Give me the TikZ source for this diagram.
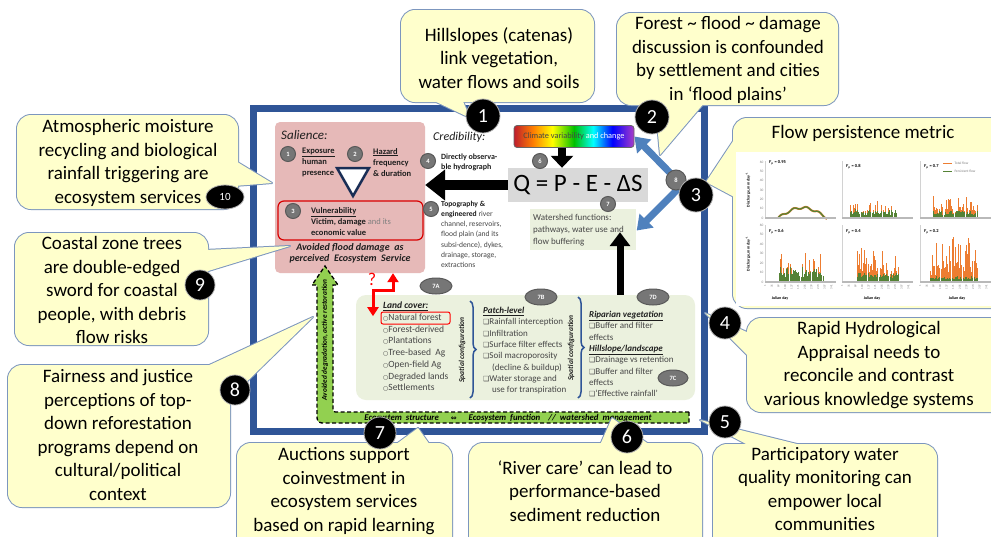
\documentclass[tikz,border=0pt]{standalone}
\usepackage{fontspec}
\setmainfont{Carlito}
\newfontfamily\djv{DejaVu Sans}
\usetikzlibrary{arrows.meta,shapes.geometric,decorations.pathreplacing,calc}
\definecolor{frameblue}{RGB}{47,85,151}
\definecolor{calfill}{RGB}{255,255,204}
\definecolor{calborder}{RGB}{124,150,190}
\definecolor{salpink}{RGB}{230,185,184}
\definecolor{lightgreen}{RGB}{235,241,222}
\definecolor{barfill}{RGB}{146,208,80}
\definecolor{arrowblue}{RGB}{79,129,189}
\definecolor{eqgrey}{RGB}{217,217,217}
\definecolor{numgrey}{RGB}{118,118,118}
\definecolor{txtgrey}{RGB}{70,70,70}
\definecolor{txtdark}{RGB}{30,30,30}
\definecolor{navy}{RGB}{25,45,85}
\definecolor{flowor}{RGB}{237,125,49}
\definecolor{flowgr}{RGB}{84,130,53}
\definecolor{rbred}{RGB}{190,30,45}
\definecolor{rbviolet}{RGB}{170,60,200}
\pgfdeclarehorizontalshading{rainbowsh}{100bp}{color(0bp)=(rbred); color(25bp)=(rbred); color(33bp)=(orange); color(41bp)=(yellow); color(50bp)=(green!75!black); color(58bp)=(cyan); color(66bp)=(blue); color(75bp)=(rbviolet); color(100bp)=(rbviolet)}
\newcommand\fsz[2]{\fontsize{#1}{#2}\selectfont}
\newcommand\lcb{{\djv\fsz{6}{6}○}}
\newcommand\chk{{\djv\fsz{7}{7}❑}}
\newcommand\calloutshape[5]{%
  \draw[calborder, line width=2pt, rounded corners=14pt] #1 rectangle #2;
  \draw[calborder, line width=2pt, line join=round] #3 -- #4 -- #5 -- cycle;
  \fill[calfill, rounded corners=14pt] #1 rectangle #2;
  \fill[calfill] #3 -- #4 -- #5 -- cycle;}
\newcommand\flowbars[5]{%
  \foreach \kk in {0,...,#2}{%
    \pgfmathsetmacro\ho{(#4)*(0.3+0.7*rnd)*(rnd>0.5 ? 1 : 0.5)}%
    \pgfmathsetmacro\hg{min(\ho,(#5)*(0.45+0.55*rnd))}%
    \draw[flowor, line width=0.9pt] ({#1+\kk*1.1},#3) -- ++(0,-\ho);
    \draw[flowgr, line width=0.9pt] ({#1+\kk*1.1},#3) -- ++(0,-\hg);
  }}
\tikzset{
  plainbox/.style={inner sep=0pt, draw=none},
  calltext/.style={align=center, font=\fsz{19}{23.5}, text=black, inner sep=0pt},
  badge/.style={circle, fill=black, draw=gray!60, line width=0.8pt, text=white, font=\fsz{20}{20}, minimum size=34pt, inner sep=0pt},
  numc/.style={circle, fill=numgrey, draw=black!65, line width=1pt, text=white, font=\bfseries\fsz{6.5}{6.5}, minimum size=15pt, inner sep=0pt},
  numel/.style={ellipse, fill=numgrey, draw=black!65, line width=1pt, text=white, font=\bfseries\fsz{6.5}{6.5}, minimum width=32pt, minimum height=16pt, inner sep=0pt},
  tinytxt/.style={font=\fsz{3.5}{3.5}, text=gray, inner sep=0.3pt},
}
\begin{document}
\begin{tikzpicture}[x=1pt,y=-1pt]
\useasboundingbox (0,0) rectangle (991,536);
\fill[white] (0,0) rectangle (991,536);

% main frame
\draw[frameblue, line width=7pt] (253,108) rectangle (704,431);

% Salience
\node[plainbox, fill=salpink, rounded corners=5pt, minimum width=150pt, minimum height=151pt] (sal) at (350,197.5) {};
\node[anchor=west, inner sep=0pt, font=\itshape\fsz{13}{13}, text=txtdark] (saltitle) at (281,135) {Salience:};
\node[numc] (g1) at (288,154) {1};
\node[numc] (g2) at (355,154) {2};
\node[anchor=north west, inner sep=0pt, align=left, font=\bfseries\fsz{8.5}{11}, text=txtdark] (expo) at (302,148) {\underline{Exposure}\\human\\presence};
\node[anchor=north west, inner sep=0pt, align=left, font=\bfseries\fsz{8.5}{11}, text=txtdark] (haz) at (373,148) {\underline{Hazard}\\frequency\\\& duration};
\draw[fill=white, draw=navy, line width=2.5pt, line join=miter] (337,168) -- (369,168) -- (353,196) -- cycle;
\node[plainbox, draw=red!85!black, line width=1.2pt, rounded corners=6pt, minimum width=145pt, minimum height=39pt] (vul) at (350.5,220.5) {};
\node[numc] (g3) at (293,211) {3};
\node[anchor=north west, inner sep=0pt, align=left, font=\bfseries\fsz{8.5}{10.8}, text=txtdark] (vultxt) at (311,207.5) {\underline{Vulnerability}\\Victim, damage {\mdseries\color{gray}and its}\\economic value};
\node[align=center, inner sep=0pt, font=\bfseries\itshape\fsz{10}{11}, text=txtdark] (avoid) at (350,253) {Avoided flood damage\ \ as\\perceived\ \ Ecosystem\ \ Service};

% Credibility
\node[anchor=west, inner sep=0pt, font=\itshape\fsz{12}{12}, text=txtdark] (cred) at (433,137) {Credibility:};
\node[numc] (g4) at (428,161) {4};
\node[anchor=north west, inner sep=0pt, align=left, font=\bfseries\fsz{8}{10.5}, text=txtdark] (obs) at (441,153.6) {Directly observa-\\ble hydrograph};
\node[numc] (g5) at (431,209) {5};
\node[anchor=north west, inner sep=0pt, align=left, font=\fsz{7.6}{10.2}, text=txtgrey] (topo) at (441,200.8) {{\bfseries\color{txtdark}Topography \&}\\{\bfseries\color{txtdark}engineered} river\\channel, reservoirs,\\flood plain (and its\\subsi-dence), dykes,\\drainage, storage,\\extractions};

\node[plainbox, draw=black!60, line width=0.8pt, rounded corners=3pt, shading=rainbowsh, minimum width=120pt, minimum height=22pt, font=\fsz{8.3}{8.3}] (clim) at (574,136.5) {{\color{txtgrey}Climate variability} {\color{white}and change}};
\node[plainbox, fill=eqgrey, minimum width=140pt, minimum height=34pt, font=\fsz{25}{25}] (eq) at (578,185) {Q = P - E - ΔS};
\node[plainbox, fill=lightgreen, minimum width=106pt, minimum height=41pt] (ws) at (582.5,229.5) {};
\node[anchor=north west, inner sep=0pt, align=left, font=\fsz{9}{12}, text=txtgrey] (wstxt) at (533,214.2) {Watershed functions:\\pathways, water use and\\flow buffering};

\draw[black, line width=8pt, -{Triangle[width=22pt,length=12pt]}] ($(clim.south)+(-12,0)$) -- ($(eq.north)+(-16,0)$);
\node[numc] (g6) at (540,161) {6};
\draw[black, line width=10pt, -{Triangle[width=30pt,length=20pt]}] (eq.west) -- (eq.west -| sal.east);
\node[numc] (g7) at (608,204) {7};

% lower box
\node[plainbox, fill=lightgreen, rounded corners=10pt, minimum width=339pt, minimum height=105pt] (low) at (525.5,347.5) {};
\draw[black, line width=7pt, -{Triangle[width=20pt,length=14pt]}] ($(low.north)+(94.5,0)$) -- ($(ws.south)+(37.5,-18)$);

\coordinate (j8) at (682,185);
\draw[arrowblue, line width=7pt, -{Triangle[width=19pt,length=14pt]}] (j8) -- (clim.east);
\draw[arrowblue, line width=7pt, -{Triangle[width=19pt,length=14pt]}] (j8) -- ($(ws.east)+(1,1)$);

\node[numel] (e7a) at (436,286) {7A};
\node[numel] (e7b) at (541,297) {7B};
\node[numel] (e7d) at (653,297) {7D};
\node[numel, minimum width=30pt] (e7c) at (673,378) {7C};

\node[anchor=north west, inner sep=0pt, align=left, font=\fsz{9.5}{11.7}, text=txtgrey] (lc) at (383,302) {{\bfseries\itshape\color{txtdark}\underline{Land cover:}}\\\lcb Natural forest\\\lcb Forest-derived\\\lcb Plantations\\\lcb Tree-based\ \ Ag\\\lcb Open-field Ag\\\lcb Degraded lands\\\lcb Settlements};
\node[plainbox, draw=red, line width=1pt, rounded corners=2pt, minimum width=69pt, minimum height=12pt] (nf) at (415.5,318) {};
\node[anchor=north west, inner sep=0pt, align=left, font=\fsz{9}{11.3}, text=txtgrey] (patch) at (483,307) {{\bfseries\itshape\color{txtdark}\underline{Patch-level}}\\\chk Rainfall interception\\\chk Infiltration\\\chk Surface filter effects\\\chk Soil macroporosity\\\hspace*{9pt}(decline \& buildup)\\\chk Water storage and\\\hspace*{9pt}use for transpiration};
\node[anchor=north west, inner sep=0pt, align=left, font=\fsz{9}{11.3}, text=txtgrey] (ripa) at (589,311) {{\bfseries\itshape\color{txtdark}\underline{Riparian vegetation}}\\\chk Buffer and filter\\effects\\{\bfseries\itshape\color{txtdark}\underline{Hillslope/landscape}}\\\chk Drainage vs retention\\\chk Buffer and filter\\effects\\\chk ‘Effective rainfall’};
\draw[decorate, decoration={brace, amplitude=6pt}, frameblue, line width=1.5pt] (470,301) -- (470,398);
\draw[decorate, decoration={brace, amplitude=6pt}, frameblue, line width=1.5pt] (578,297) -- (578,398);
\node[rotate=90, font=\bfseries\itshape\fsz{7.5}{7.5}, inner sep=0pt, text=txtdark] (sc1) at (462,350) {Spatial configuration};
\node[rotate=90, font=\bfseries\itshape\fsz{7.5}{7.5}, inner sep=0pt, text=txtdark] (sc2) at (571,348) {Spatial configuration};

% green L arrow
\draw[black, line width=1.3pt, dash pattern=on 4pt off 2.5pt, fill=barfill] (689,412) -- (338,412) .. controls (333,412) .. (333,407) -- (333,285) -- (338,285) -- (325,266) -- (312,285) -- (317,285) -- (317,413) .. controls (317,423) .. (327,423) -- (689,423) -- cycle;
\node[rotate=90, font=\bfseries\itshape\fsz{7.3}{7.3}, inner sep=0pt] (avdeg) at (325,340) {Avoided degradation, active restoration};
\node[font=\bfseries\itshape\fsz{8.8}{8.8}, inner sep=0pt] (bar) at (508,418) {Ecosystem\ \ structure\hspace{12pt}{\djv\fsz{7}{7}⇔}\hspace{12pt}Ecosystem\ \ function\hspace{8pt}//\ \ watershed\ \ management};

% red arrow
\draw[red, line width=3pt, {Triangle[width=11pt,length=9pt]}-{Triangle[width=11pt,length=9pt]}] ($(sal.south)+(43,0)$) -- ++(0,17) -- ++(-20,0) -- ++(0,26);
\node[text=red, font=\fsz{18}{18}, inner sep=0pt] (qm) at (372,279) {?};

% callouts
\calloutshape{(17,115)}{(238,209)}{(234,160)}{(272,183)}{(234,186)}
\node[calltext] (t10) at (128,163) {Atmospheric moisture\\recycling and biological\\rainfall triggering are\\ecosystem services};
\calloutshape{(401,10)}{(594,102)}{(430,99)}{(470,118)}{(462,99)}
\node[calltext] (t1) at (499,58) {Hillslopes (catenas)\\link vegetation,\\water flows and soils};
\calloutshape{(617,13)}{(838,105)}{(655,102)}{(660,155)}{(705,102)}
\node[calltext] (t2) at (728,60) {Forest \textasciitilde{} flood \textasciitilde{} damage\\discussion is confounded\\by settlement and cities\\in ‘flood plains’};
\calloutshape{(733,118)}{(1010,308)}{(745,123)}{(706,182)}{(736,198)}
\node[calltext] (t3) at (863,133) {Flow persistence metric};
\calloutshape{(747,318)}{(1010,412)}{(749,333)}{(705,313)}{(749,357)}
\node[calltext] (t4) at (869,365) {Rapid Hydrological\\Appraisal needs to\\reconcile and contrast\\various knowledge systems};
\calloutshape{(713,444)}{(937,560)}{(750,446)}{(700,420)}{(805,446)}
\node[calltext] (t5) at (825,489) {Participatory water\\quality monitoring can\\empower local\\communities};
\calloutshape{(469,443)}{(702,560)}{(600,445)}{(612,418)}{(650,445)}
\node[calltext] (t6) at (585,491) {‘River care’ can lead to\\performance-based\\sediment reduction};
\calloutshape{(237,443)}{(452,560)}{(395,445)}{(418,428)}{(430,445)}
\node[calltext] (t7) at (344,491) {Auctions support\\coinvestment in\\ecosystem services\\based on rapid learning};
\calloutshape{(8,365)}{(230,507)}{(205,367)}{(313,317)}{(228,400)}
\node[calltext] (t8) at (118,435) {Fairness and justice\\perceptions of top-\\down reforestation\\programs depend on\\cultural/political\\context};
\calloutshape{(15,233)}{(208,345)}{(205,250)}{(290,246)}{(205,272)}
\node[calltext] (t9) at (112,290) {Coastal zone trees\\are double-edged\\sword for coastal\\people, with debris\\flow risks};

\node[numc, minimum size=20pt] (g8) at (676,180) {8};

% chart
\fill[white] (736,152) rectangle (991,306);
\pgfmathsetseed{11}
\foreach \cx in {765,842,920}{
  \foreach \zy in {218,282}{
    \draw[gray!35, line width=0.3pt] (\cx,\zy) -- ++(0,-57);
  }}
\draw[flowor, line width=2pt] plot[domain=0:1, samples=50] ({778+49*\x}, {218-0.933*(11*sin(180*\x)+1.2*sin(1400*\x))});
\draw[flowgr, line width=1.3pt] plot[domain=0:1, samples=50] ({778+49*\x}, {218-0.933*(11*sin(180*\x)+1.2*sin(1400*\x))});
\flowbars{850}{42}{218}{17.7}{10}
\flowbars{933}{40}{218}{22.4}{7.5}
\flowbars{779}{40}{282}{30}{17}
\flowbars{857}{38}{282}{34}{9.5}
\flowbars{930}{43}{282}{45.6}{5.7}
\foreach \cx in {765,842,920}{
  \foreach \zy in {218,282}{
    \draw[gray!55, line width=1.2pt] (\cx,\zy) -- ++(71,0);
  }}
\foreach \vv in {0,10,...,60}{
  \node[tinytxt, anchor=east] (ya\vv) at (764,{218-\vv*0.933}) {\vv};
  \node[tinytxt, anchor=east] (yb\vv) at (764,{282-\vv*0.95}) {\vv};
}
\foreach \cx in {765,842,920}{
  \foreach \dd in {1,35,...,341}{
    \node[tinytxt, rotate=90, anchor=east, font=\fsz{3}{3}] (xt\cx-\dd) at ({\cx+\dd/365*71},284) {\dd};
  }}
\node[rotate=90, font=\bfseries\fsz{4}{4}, inner sep=0pt] (ylab1) at (748,190) {Discharge, mm day\textsuperscript{-1}};
\node[rotate=90, font=\bfseries\fsz{4}{4}, inner sep=0pt] (ylab2) at (748,254) {Discharge, mm day\textsuperscript{-1}};
\node[font=\bfseries\fsz{4}{4}, inner sep=0pt] (jd1) at (780,298) {Julian day};
\node[font=\bfseries\fsz{4}{4}, inner sep=0pt] (jd2) at (872,298) {Julian day};
\node[font=\bfseries\fsz{4}{4}, inner sep=0pt] (jd3) at (957,298) {Julian day};
\node[anchor=west, font=\bfseries\fsz{4.5}{4.5}, inner sep=0pt] (fp1) at (769,163) {\textit{F}\textsubscript{p} = 0.95};
\node[anchor=west, font=\bfseries\fsz{4.5}{4.5}, inner sep=0pt] (fp2) at (846,167) {\textit{F}\textsubscript{p} = 0.8};
\node[anchor=west, font=\bfseries\fsz{4.5}{4.5}, inner sep=0pt] (fp3) at (924,167) {\textit{F}\textsubscript{p} = 0.7};
\node[anchor=west, font=\bfseries\fsz{4.5}{4.5}, inner sep=0pt] (fp4) at (769,232) {\textit{F}\textsubscript{p} = 0.6};
\node[anchor=west, font=\bfseries\fsz{4.5}{4.5}, inner sep=0pt] (fp5) at (846,232) {\textit{F}\textsubscript{p} = 0.4};
\node[anchor=west, font=\bfseries\fsz{4.5}{4.5}, inner sep=0pt] (fp6) at (924,232) {\textit{F}\textsubscript{p} = 0.2};
\coordinate (lg1a) at (943,163); \coordinate (lg1b) at (952,163);
\coordinate (lg2a) at (943,171); \coordinate (lg2b) at (952,171);
\draw[flowor, line width=1pt] (lg1a) -- (lg1b);
\draw[flowgr, line width=1pt] (lg2a) -- (lg2b);
\node[tinytxt, anchor=west] (lgt1) at (954,163) {Total flow};
\node[tinytxt, anchor=west] (lgt2) at (954,171) {Persistent flow};

% badges
\node[badge] (b1) at (483,116) {1};
\node[badge] (b2) at (652,117) {2};
\node[badge] (b3) at (696,195) {3};
\node[badge, minimum size=32pt] (b4) at (725,323) {4};
\node[badge, minimum size=32pt] (b5) at (725,422) {5};
\node[badge, minimum size=32pt] (b6) at (627,437) {6};
\node[badge, minimum size=32pt] (b7) at (380,433) {7};
\node[badge, minimum size=30pt] (b8) at (235,390) {8};
\node[badge, minimum size=30pt] (b9) at (200,285) {9};
\node[badge, ellipse, minimum width=38pt, minimum height=24pt, font=\fsz{11}{11}] (b10) at (225,197) {10};
\end{tikzpicture}
\end{document}
